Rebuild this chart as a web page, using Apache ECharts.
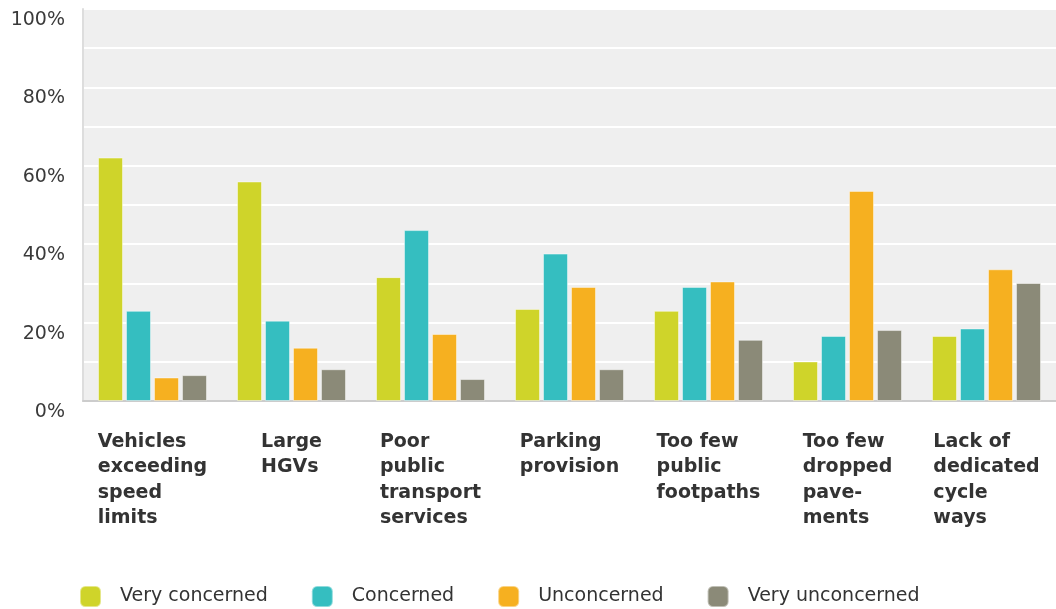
<!DOCTYPE html>
<html>
<head>
<meta charset="utf-8">
<script src="https://cdn.jsdelivr.net/npm/echarts@6/dist/echarts.min.js"></script>
<style>
html,body{margin:0;padding:0;background:#fff;}
#chart{width:1056px;height:609px;}
</style>
</head>
<body>
<div id="chart"></div>
<script>
const categories = [
  "Vehicles\nexceeding\nspeed\nlimits",
  "Large\nHGVs",
  "Poor\npublic\ntransport\nservices",
  "Parking\nprovision",
  "Too few\npublic\nfootpaths",
  "Too few\ndropped\npave-\nments",
  "Lack of\ndedicated\ncycle\nways"
];
const seriesNames = ["Very concerned", "Concerned", "Unconcerned", "Very unconcerned"];
const veryConcerned   = [62.1, 56.0, 31.6, 23.5, 23.0, 10.1, 16.6];
const concerned       = [23.0, 20.5, 43.6, 37.6, 29.1, 16.6, 18.5];
const unconcerned     = [6.0, 13.6, 17.1, 29.1, 30.5, 53.6, 33.6];
const veryUnconcerned = [6.6, 8.1, 5.6, 8.1, 15.6, 18.1, 30.1];
const colors = ["#cfd42a", "#35bec0", "#f6b020", "#8b8a78"];

const values = [veryConcerned, concerned, unconcerned, veryUnconcerned];
const chart = echarts.init(document.getElementById('chart'));
chart.setOption({
  animation: false,
  backgroundColor: '#fff',
  grid: {left: 83, right: 0, top: 9, bottom: 208, show: true, backgroundColor: '#efefef', borderWidth: 0},
  legend: {
    left: 74, top: 580, itemWidth: 21, itemHeight: 21, itemGap: 43,
    icon: 'roundRect',
    textStyle: {fontFamily: 'DejaVu Sans', fontSize: 19, color: '#333', padding: [0, 0, 0, 14]},
    data: seriesNames
  },
  xAxis: {
    type: 'category',
    data: categories,
    axisTick: {show: false},
    axisLine: {lineStyle: {color: '#cccccc', width: 2}},
    axisLabel: {
      interval: 0,
      margin: 28,
      align: 'center',
      formatter: function (v) { return v.split('\n').map(function (l) { return '{a|' + l + '}'; }).join('\n'); },
      rich: {a: {align: 'left', fontFamily: 'DejaVu Sans', fontWeight: 'bold', fontSize: 19, lineHeight: 25.5, color: '#333'}}
    }
  },
  yAxis: {
    type: 'value', min: 0, max: 100, interval: 20,
    axisLine: {show: true, lineStyle: {color: '#dddddd', width: 2}},
    axisTick: {show: false},
    splitLine: {lineStyle: {color: '#ffffff', width: 2}},
    minorTick: {show: false, splitNumber: 2},
    minorSplitLine: {show: true, lineStyle: {color: '#ffffff', width: 2}},
    axisLabel: {
      formatter: '{value}%', margin: 18, fontFamily: 'DejaVu Sans', fontSize: 19, color: '#3a3a3a',
      verticalAlign: 'top', lineHeight: 22
    }
  },
  series: seriesNames.map(function (name, i) {
    return {
      name: name, type: 'bar', data: values[i],
      barCategoryGap: '21.6%', barGap: '12%',
      itemStyle: {color: colors[i], borderColor: 'rgba(255,255,255,0.45)', borderWidth: 1}
    };
  })
});
</script>
</body>
</html>
